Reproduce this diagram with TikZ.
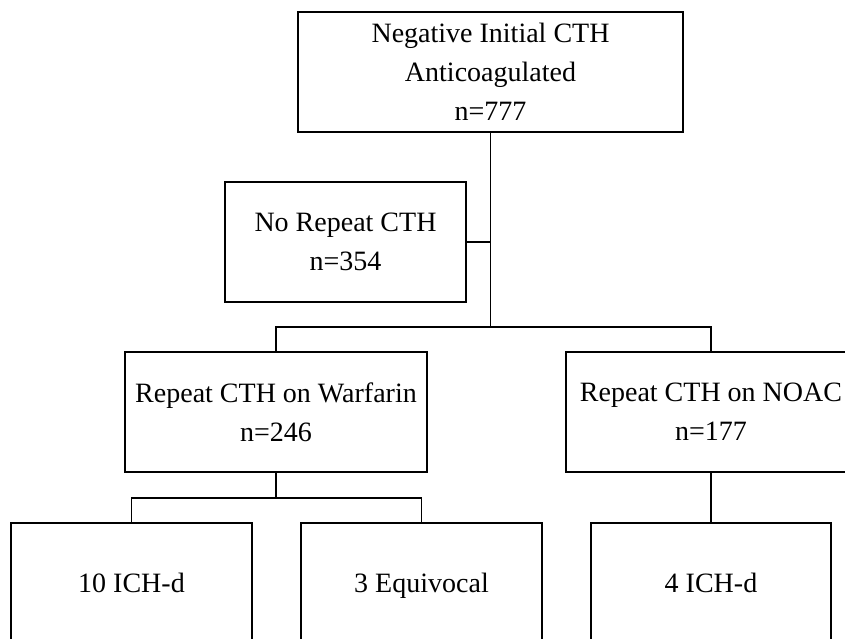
\documentclass[tikz,border=0pt]{standalone}
\usepackage{fontspec}
\setmainfont{Liberation Serif}
\begin{document}
\begin{tikzpicture}[x=1pt,y=-1pt,
  flowbox/.style={draw, line width=1.3pt, minimum height=120pt, inner sep=0pt,
    align=center, font=\fontsize{28}{39}\selectfont, minimum width=#1},
  conn/.style={line width=1.3pt}]
\useasboundingbox (0,0) rectangle (845,638);
\clip (0,0) rectangle (845,638);
\node[flowbox=385pt] (top) at (490.5,72) {Negative Initial CTH\\Anticoagulated\\n=777};
\node[flowbox=241pt] (norep) at (345.5,242) {No Repeat CTH\\n=354};
\node[flowbox=302pt] (warf) at (276,412) {Repeat CTH on Warfarin\\n=246};
\node[flowbox=290pt] (noac) at (711,412) {Repeat CTH on NOAC\\n=177};
\node[flowbox=241pt] (ich10) at (131.5,583) {\strut\raisebox{-2pt}{10 ICH-d}};
\node[flowbox=241pt] (equi) at (421.5,583) {\strut\raisebox{-2pt}{3 Equivocal}};
\node[flowbox=240pt] (ich4) at (711,583) {\strut\raisebox{-2pt}{4 ICH-d}};
\coordinate (j1) at (top.south |- 0,327);
\coordinate (j2) at (warf.south |- 0,498);
\draw[conn] (top.south) -- (j1);
\draw[conn] (norep.east) -- (norep.east -| top.south);
\draw[conn] (warf.north) |- (j1) -| (noac.north);
\draw[conn] (warf.south) -- (j2);
\draw[conn] (ich10.north) |- (j2) -| (equi.north);
\draw[conn] (noac.south) -- (ich4.north);
\end{tikzpicture}
\end{document}
